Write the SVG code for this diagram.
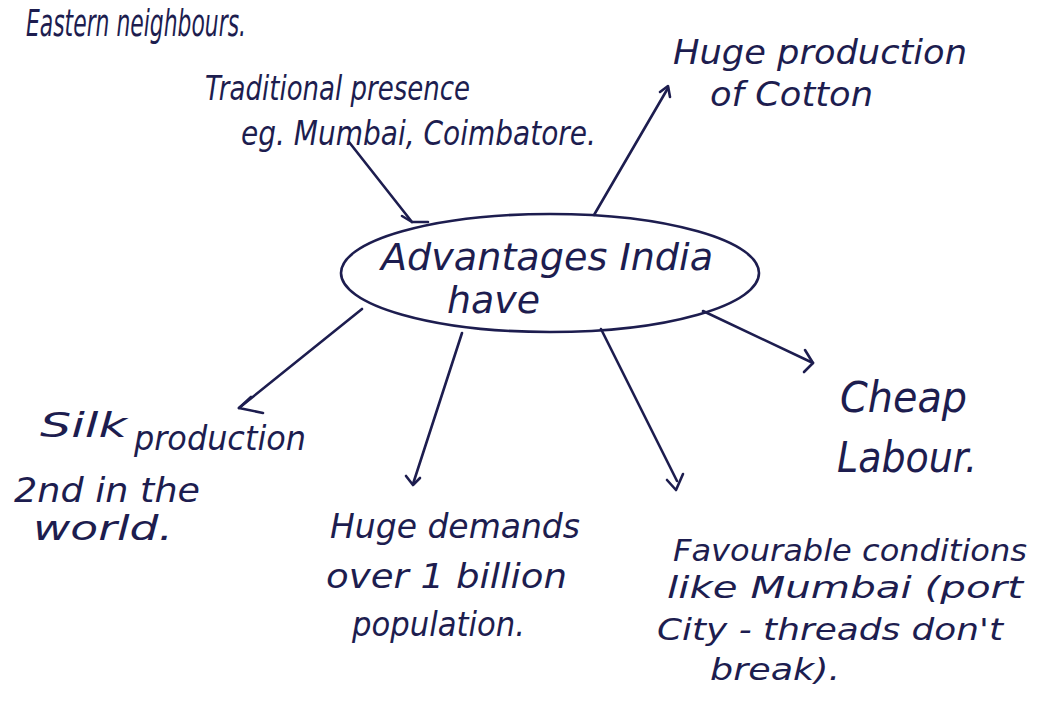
<svg xmlns="http://www.w3.org/2000/svg" width="1049" height="709" viewBox="0 0 1049 709">
<style>
text{font-family:"DejaVu Sans","Liberation Sans",sans-serif;font-style:italic;fill:#1d1d4f;}
.t{font-size:34px;}
.s{font-size:30px;}
.c{font-size:38px;}
.big{font-size:42px;}
.ln{fill:none;stroke:#1d1d4f;stroke-width:2.6;stroke-linecap:round;stroke-linejoin:round;}
</style>
<rect width="1049" height="709" fill="#ffffff"/>
<g id="heading"><text class="c" x="26" y="36" textLength="220" lengthAdjust="spacingAndGlyphs">Eastern neighbours.</text></g>
<g id="center">
<ellipse class="ln" cx="550" cy="273" rx="209" ry="59"/>
<text class="c" x="381" y="270" textLength="332" lengthAdjust="spacingAndGlyphs">Advantages India</text>
<text class="c" x="447" y="313" textLength="93" lengthAdjust="spacingAndGlyphs">have</text>
</g>
<g id="connectors">
<path class="ln" d="M412,222 L349,142"/>
<path class="ln" d="M402,216 L412,222 L428,222"/>
<path class="ln" d="M594,215 L668,88"/>
<path class="ln" d="M660,92 L668,86 L670,97"/>
<path class="ln" d="M362,309 L239,408"/>
<path class="ln" d="M251,397 L239,408 L263,413"/>
<path class="ln" d="M462,333 L413,484"/>
<path class="ln" d="M406,476 L413,485 L420,478"/>
<path class="ln" d="M601,329 L677,481"/>
<path class="ln" d="M667,480 L676,490 L683,474"/>
<path class="ln" d="M703,311 L813,363"/>
<path class="ln" d="M805,350 L813,363 L804,372"/>
</g>
<g id="traditional">
<text class="t" x="205" y="100" textLength="265" lengthAdjust="spacingAndGlyphs">Traditional presence</text>
<text class="t" x="241" y="145" textLength="355" lengthAdjust="spacingAndGlyphs">eg. Mumbai, Coimbatore.</text>
</g>
<g id="cotton">
<text class="t" x="673" y="64" textLength="294" lengthAdjust="spacingAndGlyphs">Huge production</text>
<text class="t" x="710" y="106" textLength="163" lengthAdjust="spacingAndGlyphs">of Cotton</text>
</g>
<g id="silk">
<text class="t" x="40" y="437" textLength="87" lengthAdjust="spacingAndGlyphs">Silk</text>
<text class="t" x="134" y="450" textLength="172" lengthAdjust="spacingAndGlyphs">production</text>
<text class="t" x="14" y="502" textLength="186" lengthAdjust="spacingAndGlyphs">2nd in the</text>
<text class="t" x="33" y="540" textLength="140" lengthAdjust="spacingAndGlyphs">world.</text>
</g>
<g id="demands">
<text class="t" x="330" y="538" textLength="250" lengthAdjust="spacingAndGlyphs">Huge demands</text>
<text class="t" x="326" y="588" textLength="241" lengthAdjust="spacingAndGlyphs">over 1 billion</text>
<text class="t" x="352" y="636" textLength="173" lengthAdjust="spacingAndGlyphs">population.</text>
</g>
<g id="labour">
<text class="big" x="840" y="412" textLength="127" lengthAdjust="spacingAndGlyphs">Cheap</text>
<text class="big" x="837" y="472" textLength="140" lengthAdjust="spacingAndGlyphs">Labour.</text>
</g>
<g id="favourable">
<text class="s" x="673" y="561" textLength="354" lengthAdjust="spacingAndGlyphs">Favourable conditions</text>
<text class="s" x="667" y="598" textLength="356" lengthAdjust="spacingAndGlyphs">like Mumbai (port</text>
<text class="s" x="657" y="640" textLength="346" lengthAdjust="spacingAndGlyphs">City - threads don't</text>
<text class="s" x="710" y="680" textLength="130" lengthAdjust="spacingAndGlyphs">break).</text>
</g>
</svg>
